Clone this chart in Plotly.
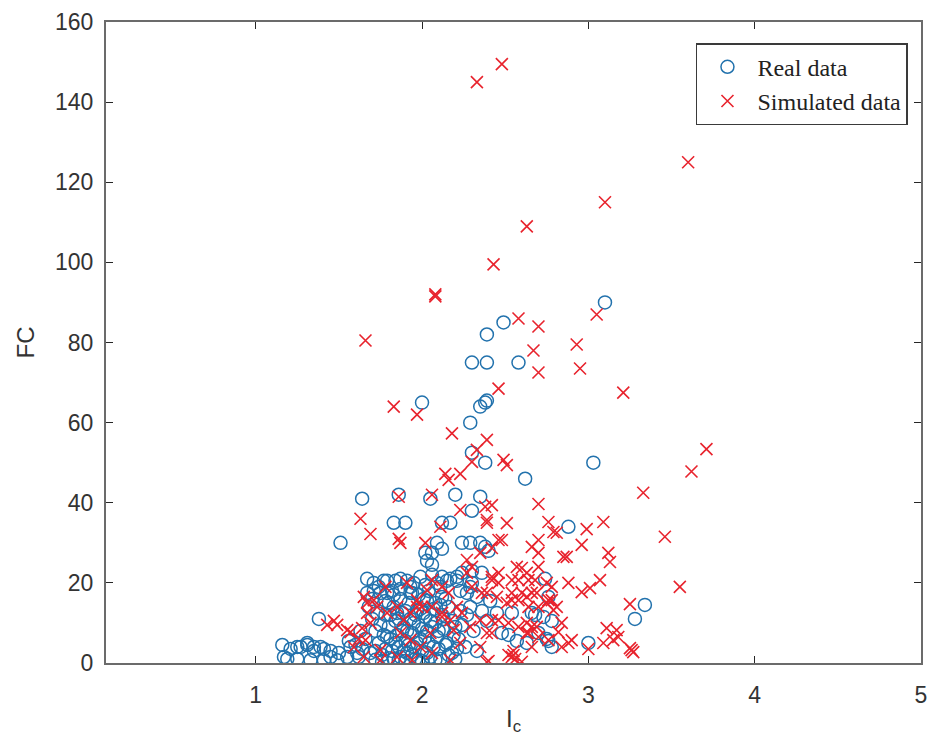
import plotly.graph_objects as go

# ---------------- data ----------------
real_x = [
    3.10, 2.49, 2.39, 2.30, 2.39, 2.58, 2.00, 2.35, 2.38, 2.39, 2.29, 2.30, 2.38, 3.03, 2.62,
    1.64, 1.86, 2.05, 2.20, 2.35, 2.30, 1.83, 1.90, 2.12, 2.17, 1.51, 2.09, 2.12, 2.02, 2.06,
    2.24, 2.29, 2.35, 2.38, 2.40, 2.03, 2.06, 2.30, 2.36, 2.24, 2.88, 2.74, 2.76, 3.34, 3.28,
    2.68, 2.75, 2.78, 2.52, 3.00, 2.66, 2.73, 2.78, 2.45, 2.54,
    1.67, 1.71, 1.77, 1.79, 1.84, 1.87, 1.91, 1.95, 1.99, 2.02, 2.06, 2.09, 2.12, 2.15, 2.17,
    2.21, 2.21, 1.71, 1.79, 1.87, 1.94, 1.67, 1.75, 1.83, 1.93, 2.03, 2.11, 2.12, 2.23, 2.29,
    2.33, 2.27, 2.29, 2.30, 2.48, 2.57, 2.63, 2.70, 2.76, 2.39, 2.41,
    1.38, 1.16, 1.17, 1.25, 1.31, 1.35, 1.41, 1.45, 1.19, 1.25, 1.33, 1.41, 1.49, 1.55, 1.61,
    1.27, 1.35, 1.39, 1.45, 1.50, 1.57, 1.31, 1.21, 1.56, 1.60,
    1.68, 1.70, 1.72, 1.74, 1.76, 1.76, 1.78, 1.80, 1.81, 1.82, 1.83, 1.84, 1.85, 1.86, 1.87,
    1.88, 1.89, 1.90, 1.91, 1.92, 1.93, 1.94, 1.95, 1.96, 1.97, 1.98, 1.99, 2.00, 2.01, 2.02,
    2.03, 2.04, 2.05, 2.07, 2.08, 2.09, 2.10, 2.12, 2.13, 2.15, 2.16, 2.18, 2.19, 2.21, 2.23,
    1.72, 1.75, 1.79, 1.83, 1.86, 1.88, 1.92, 1.95, 1.99, 2.02, 2.06, 2.11, 1.66, 1.69, 1.78,
    1.81, 2.14, 2.00, 1.90, 1.64, 1.62,
    1.70, 1.73, 1.74, 1.77, 1.78, 1.80, 1.82, 1.84, 1.85, 1.87, 1.89, 1.90, 1.91, 1.93, 1.94,
    1.96, 1.97, 1.98, 2.00, 2.01, 2.03, 2.04, 2.05, 2.07, 2.08, 2.10, 2.11, 2.13, 2.14, 2.16,
    2.18, 2.20, 2.22, 2.24, 2.26, 2.27, 2.31, 2.33, 2.36, 1.72, 1.80, 1.86, 1.98, 2.08, 2.20,
    1.63,
]
real_y = [
    90.0, 85.0, 82.0, 75.0, 75.0, 75.0, 65.0, 64.0, 65.0, 65.5, 60.0, 52.5, 50.0, 50.0, 46.0,
    41.0, 42.0, 41.0, 42.0, 41.5, 38.0, 35.0, 35.0, 35.0, 35.0, 30.0, 30.0, 28.5, 27.5, 27.5,
    30.0, 30.0, 30.0, 29.0, 28.0, 25.5, 24.5, 23.0, 22.5, 22.5, 34.0, 21.0, 16.5, 14.5, 11.0,
    12.0, 6.0, 4.0, 7.0, 5.0, 12.5, 11.5, 10.5, 12.5, 12.5,
    21.0, 20.0, 20.5, 20.5, 20.5, 21.0, 20.5, 20.0, 21.5, 19.5, 22.0, 20.0, 21.5, 20.5, 21.0,
    21.5, 20.5, 18.0, 17.5, 18.5, 17.5, 17.5, 17.5, 17.0, 17.5, 15.5, 19.0, 16.5, 18.0, 19.0,
    16.5, 17.5, 14.0, 20.0, 7.5, 5.5, 5.0, 7.5, 5.5, 10.5, 15.5,
    11.0, 4.5, 1.5, 4.0, 4.5, 3.0, 3.5, 1.5, 1.0, 1.0, 0.7, 0.7, 0.7, 1.5, 2.5,
    4.0, 4.0, 4.0, 3.0, 2.5, 4.0, 5.0, 3.5, 5.5, 4.5,
    14.0, 11.0, 8.0, 5.0, 2.0, 0.3, 12.0, 9.0, 6.0, 3.0, 14.0, 10.5, 7.0, 4.0, 1.5,
    12.5, 9.0, 5.5, 2.5, 15.0, 11.0, 7.5, 4.0, 1.0, 13.0, 9.5, 6.0, 3.0, 16.0, 11.5,
    8.0, 5.0, 1.5, 13.5, 10.0, 6.5, 3.5, 12.0, 8.5, 5.0, 2.0, 10.5, 7.0, 3.5, 13.0,
    3.0, 9.5, 6.5, 1.0, 11.0, 8.0, 4.5, 10.0, 13.5, 6.5, 9.0, 14.5, 6.0, 2.5, 15.5,
    12.0, 16.0, 0.5, 0.5, 3.5, 1.5,
    16.0, 12.5, 19.0, 7.0, 3.5, 15.0, 18.0, 5.0, 12.5, 16.0, 3.0, 13.0, 8.0, 19.0, 2.0,
    12.0, 5.0, 17.0, 8.5, 12.5, 2.5, 18.0, 10.5, 4.0, 15.0, 8.0, 1.0, 11.0, 4.5, 14.0,
    2.5, 9.0, 6.0, 9.5, 4.0, 12.0, 8.0, 3.0, 13.0, 0.8, 1.2, 0.8, 0.8, 0.8, 1.0,
    8.0,
]

sim_x = [
    2.33, 2.48, 3.60, 3.10, 2.63, 2.43, 2.08, 2.08, 1.66, 2.58, 2.70, 2.93, 3.05, 2.67, 2.70,
    2.95, 2.46, 3.21, 1.83, 1.97, 2.18, 2.39, 2.33, 3.71, 2.49, 2.51, 2.30, 3.62, 3.33, 2.14,
    2.23, 2.16, 1.86, 2.06, 2.42, 2.38, 2.70, 2.23, 1.63, 1.69, 1.86, 1.87, 2.11, 2.51, 2.39,
    2.39, 2.76, 2.79, 2.81, 2.99, 3.09, 3.46, 2.96, 3.12, 3.13, 2.70, 2.66, 2.70, 2.85, 2.48,
    2.02, 2.35, 2.42, 2.46, 2.27, 2.30, 2.27, 2.46, 2.42, 2.60, 2.54, 2.64, 2.70, 3.55, 3.07,
    2.96, 3.01, 3.25, 2.54, 2.63, 2.69, 2.79, 2.78, 2.82, 2.88, 2.63, 2.66, 3.00, 3.11, 3.17,
    3.09, 3.15, 3.18, 3.25, 3.27, 3.26, 2.52, 2.55, 2.55, 2.56, 2.40, 2.87,
    1.78, 1.91, 2.03, 2.12, 2.16, 2.06, 2.30, 2.39, 2.46, 2.45, 2.54, 2.58, 2.66, 2.64, 2.70,
    2.78, 2.76, 2.46, 2.42, 2.58, 2.64, 2.70, 2.76, 2.66, 1.47, 1.49, 1.43, 1.55, 1.57, 1.64,
    1.66, 1.67, 1.65, 1.67, 1.73, 1.79, 1.85, 1.89, 1.93, 1.97, 2.06, 2.12, 2.17, 2.21, 2.24,
    2.29, 2.35, 2.39, 2.36, 2.42, 2.57, 2.63, 2.58, 2.68, 2.75, 2.60, 2.75, 2.81, 2.88, 2.84,
    2.90, 2.84, 2.69, 2.63, 2.52, 2.51, 2.42, 2.35, 2.23, 2.19, 2.12, 2.05, 1.99, 1.93, 1.87,
    1.75, 1.69, 1.71, 2.00, 1.97, 1.65, 1.75, 1.85, 1.94, 2.06, 2.17, 2.39, 2.54, 2.60, 1.59,
    1.62,
]
sim_y = [
    145.0, 149.5, 125.0, 115.0, 109.0, 99.5, 92.0, 91.5, 80.5, 86.0, 84.0, 79.5, 87.0, 78.0, 72.5,
    73.5, 68.5, 67.5, 64.0, 62.0, 57.3, 55.7, 53.2, 53.4, 50.7, 49.4, 50.2, 47.8, 42.5, 47.2,
    47.2, 45.7, 41.5, 42.0, 39.4, 39.0, 39.7, 38.2, 36.0, 32.2, 31.0, 30.0, 34.0, 34.9, 35.0,
    35.7, 35.2, 32.7, 32.5, 33.4, 35.2, 31.5, 29.5, 27.5, 25.2, 30.7, 29.0, 27.5, 26.5, 30.7,
    30.0, 27.5, 28.7, 30.7, 25.7, 24.0, 22.5, 22.5, 20.7, 23.7, 20.7, 20.7, 24.0, 19.0, 20.7,
    17.7, 18.7, 14.7, 15.7, 16.5, 17.5, 13.2, 15.7, 7.7, 5.0, 7.5, 9.0, 3.5, 8.7, 8.2,
    5.0, 5.7, 6.5, 3.7, 2.7, 3.2, 2.0, 2.0, 3.0, 1.0, 0.5, 26.5,
    19.0, 20.0, 18.2, 19.0, 17.5, 20.7, 19.0, 17.5, 20.0, 16.5, 17.5, 15.7, 17.5, 14.0, 14.0,
    19.0, 15.7, 10.7, 7.5, 9.0, 7.5, 6.5, 5.7, 4.0, 10.5, 9.5, 9.5, 8.2, 7.7, 8.7,
    5.7, 15.0, 16.5, 12.5, 14.0, 12.5, 14.0, 10.7, 12.5, 14.0, 14.0, 12.5, 10.7, 14.0, 12.5,
    9.0, 10.7, 7.5, 17.5, 21.5, 24.0, 22.5, 20.7, 20.7, 20.0, 17.5, 15.0, 14.0, 20.0, 10.0,
    5.7, 4.0, 9.0, 10.0, 10.0, 15.0, 10.7, 4.0, 5.0, 8.2, 11.5, 7.5, 4.0, 5.7, 7.5,
    3.2, 10.0, 15.7, 14.0, 15.7, 1.5, 0.7, 1.5, 0.7, 2.5, 0.7, 0.2, 1.5, 0.3, 4.0,
    6.0,
]

series_names = ["Real data", "Simulated data"]
x_ticks = [1, 2, 3, 4, 5]
y_ticks = [0, 20, 40, 60, 80, 100, 120, 140, 160]

# ---------------- figure ----------------
BLUE = "#2272ad"
RED = "#e8232d"
SANS = "Liberation Sans, Arial"

fig = go.Figure()
fig.add_trace(go.Scatter(
    x=real_x, y=real_y, mode="markers", name=series_names[0],
    marker=dict(symbol="circle-open", size=13, color=BLUE, line=dict(width=1.5, color=BLUE)),
))
fig.add_trace(go.Scatter(
    x=sim_x, y=sim_y, mode="markers", name=series_names[1],
    marker=dict(symbol="x-thin-open", size=12, color=RED, line=dict(width=1.6, color=RED)),
))

axis_common = dict(
    showline=True, linecolor="#6b6b6b", linewidth=2, mirror="ticks",
    ticks="inside", ticklen=7, tickwidth=1, tickcolor="#262626",
    showgrid=False, zeroline=False,
    tickfont=dict(family=SANS, size=23, color="#333333"),
    ticklabeloverflow="allow",
)

fig.update_xaxes(
    range=[0.1, 5], tickvals=x_ticks, ticktext=[str(v) for v in x_ticks],
    title=dict(text="I<sub>c</sub>", font=dict(family=SANS, size=24, color="#333333"), standoff=4),
    ticklabelstandoff=10,
    **axis_common,
)
fig.update_yaxes(
    range=[0, 160], tickvals=y_ticks, ticktext=[str(v) for v in y_ticks],
    title=dict(text="FC", font=dict(family=SANS, size=24, color="#333333"), standoff=14),
    ticklabelstandoff=6,
    **axis_common,
)

fig.update_layout(
    width=932, height=753,
    margin=dict(l=106, r=5, t=22, b=90),
    paper_bgcolor="white", plot_bgcolor="white",
    showlegend=True,
    legend=dict(
        x=0.984, y=0.967, xanchor="right", yanchor="top",
        bgcolor="white", bordercolor="#3a3a3a", borderwidth=1.5,
        font=dict(family="Liberation Serif, Times New Roman", size=24, color="#222222"),
        tracegroupgap=0, itemsizing="trace", itemwidth=50,
    ),
)

fig.write_html(
    "out.html",
    config={"displayModeBar": False},
    post_script="document.body.style.margin='0';document.body.style.overflow='hidden';",
)
